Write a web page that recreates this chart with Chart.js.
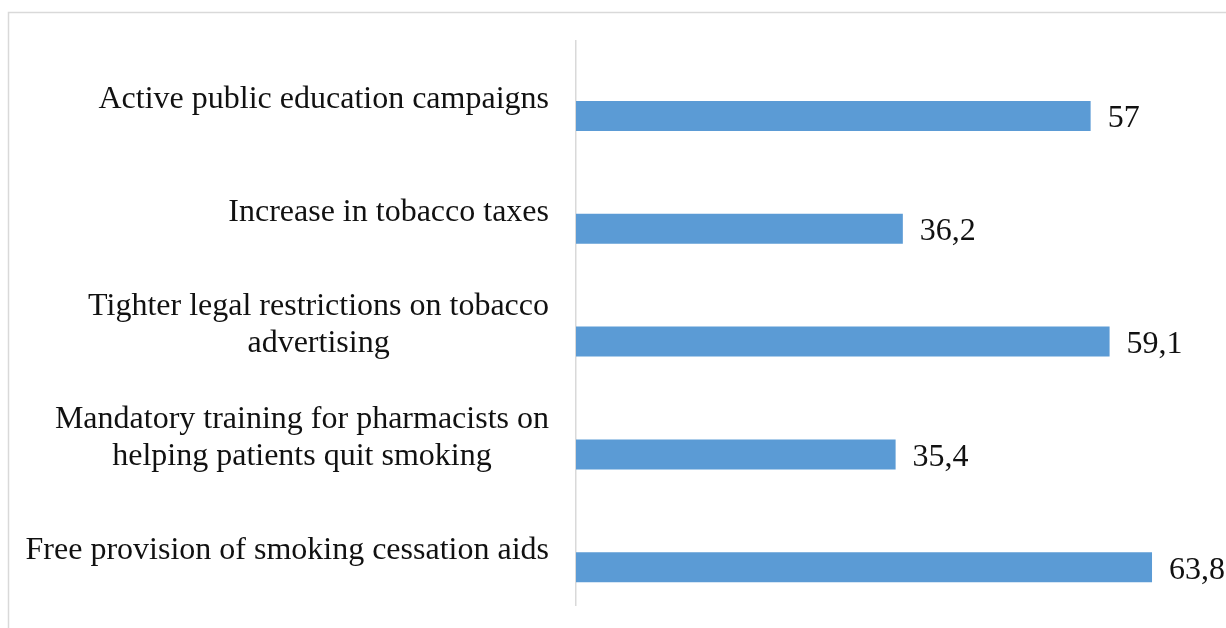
<!DOCTYPE html>
<html>
<head>
<meta charset="utf-8">
<style>
  html, body { margin: 0; padding: 0; background: #ffffff; }
  #wrap { position: relative; width: 1226px; height: 628px; }
  canvas { display: block; }
</style>
<script src="https://cdn.jsdelivr.net/npm/chart.js@4/dist/chart.umd.min.js"></script>
</head>
<body>
<div id="wrap"><canvas id="chart" width="1226" height="628"></canvas></div>
<script>
// Measures, top to bottom; each entry holds the lines of its label
const categories = [
  ['Active public education campaigns'],
  ['Increase in tobacco taxes'],
  ['Tighter legal restrictions on tobacco', 'advertising'],
  ['Mandatory training for pharmacists on', 'helping patients quit smoking'],
  ['Free provision of smoking cessation aids']
];
// Share of respondents supporting each measure, %
const support = [57, 36.2, 59.1, 35.4, 63.8];
// Empty companion series that keeps each bar in the lower half of its row
const spacer = [null, null, null, null, null];
const xMax = 70;

const FONT = '"Liberation Serif", "Times New Roman", serif';
const FONT_SIZE = 32;
const LINE_H = 37;
const BAR_COLOR = '#5b9bd5';
const FRAME_COLOR = '#d9d9d9';

const fmt = v => String(v).replace('.', ',');

// Outer frame, category labels and value labels
const decorations = {
  id: 'decorations',
  beforeDraw(chart) {
    const ctx = chart.ctx;
    ctx.save();
    ctx.strokeStyle = FRAME_COLOR;
    ctx.lineWidth = 1.5;
    ctx.beginPath();
    ctx.moveTo(8.5, 628);
    ctx.lineTo(8.5, 12.5);
    ctx.lineTo(1226, 12.5);
    ctx.stroke();
    ctx.restore();
  },
  afterDraw(chart) {
    const ctx = chart.ctx;
    const yScale = chart.scales.y;
    ctx.save();
    ctx.font = FONT_SIZE + 'px ' + FONT;
    ctx.fillStyle = '#111111';
    ctx.textBaseline = 'middle';
    ctx.textAlign = 'center';
    const rightEdge = chart.chartArea.left - 27;
    categories.forEach((lines, i) => {
      const cy = yScale.getPixelForValue(i) + 2;
      const blockW = Math.max(...lines.map(l => ctx.measureText(l).width));
      const cx = rightEdge - blockW / 2;
      const y0 = cy - (lines.length - 1) * LINE_H / 2;
      lines.forEach((l, k) => ctx.fillText(l, cx, y0 + k * LINE_H));
    });
    const meta = chart.getDatasetMeta(1);
    ctx.textAlign = 'left';
    meta.data.forEach((bar, i) => {
      ctx.fillText(fmt(support[i]), bar.x + 17, bar.y + 3);
    });
    ctx.restore();
  }
};

new Chart(document.getElementById('chart'), {
  type: 'bar',
  data: {
    labels: categories,
    datasets: [
      { data: spacer, backgroundColor: 'rgba(0,0,0,0)' },
      { data: support, backgroundColor: BAR_COLOR, borderWidth: 0 }
    ]
  },
  options: {
    indexAxis: 'y',
    responsive: false,
    animation: false,
    devicePixelRatio: 1,
    categoryPercentage: 0.66,
    barPercentage: 0.806,
    layout: { padding: { top: 41, bottom: 23, right: 18, left: 0 } },
    plugins: {
      legend: { display: false },
      tooltip: { enabled: false }
    },
    scales: {
      x: {
        display: false,
        min: 0,
        max: xMax
      },
      y: {
        display: true,
        grid: { display: false, drawTicks: false },
        border: { display: true, color: FRAME_COLOR, width: 1.5 },
        ticks: { display: false },
        afterFit(scale) { scale.width = 576; }
      }
    }
  },
  plugins: [decorations]
});
</script>
</body>
</html>
